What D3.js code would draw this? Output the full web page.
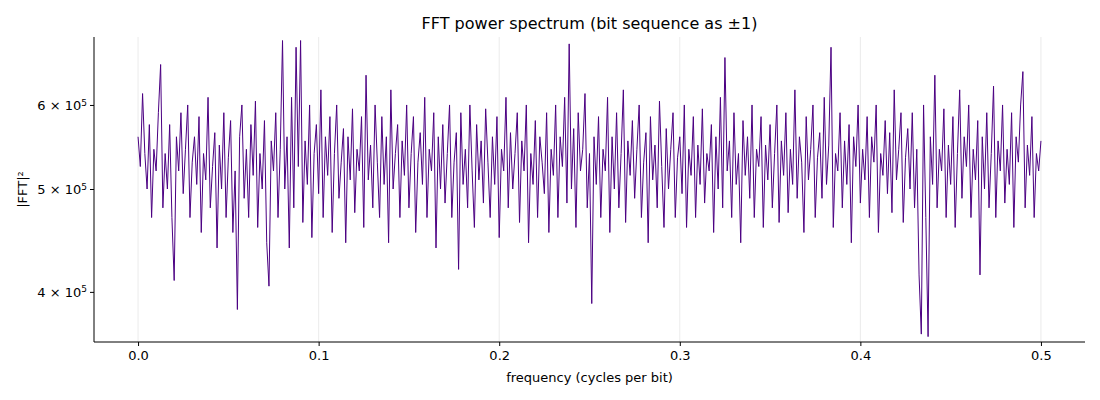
<!DOCTYPE html>
<html>
<head>
<meta charset="UTF-8">
<script src="https://d3js.org/d3.v7.min.js"></script>
<style>
  body { margin: 0; background: #fff; font-family: "DejaVu Sans", sans-serif; }
  text { font-family: "DejaVu Sans", sans-serif; }
</style>
</head>
<body>
<svg width="1100" height="400"></svg>
<script>
// power values in thousands (approximate)
const power = [
560,525,615,540,500,575,470,545,520,590,655,480,540,500,575,470,410,560,520,590,
495,545,600,470,530,560,505,585,455,540,510,610,480,525,565,440,550,500,590,470,
535,580,455,520,385,560,600,490,545,470,575,515,605,460,540,500,580,445,405,555,
520,590,470,545,690,500,560,440,610,480,680,525,690,465,555,505,600,450,540,575,
495,620,470,560,515,585,455,540,600,490,530,570,445,560,510,595,475,545,520,585,
460,640,510,550,480,600,530,470,585,505,560,445,620,500,540,575,470,555,515,600,
480,540,585,455,530,565,505,610,470,545,520,590,440,560,500,575,485,540,600,470,
530,565,420,590,505,545,480,600,520,460,575,510,555,485,595,530,470,560,505,585,
450,545,520,610,480,565,500,540,590,465,555,520,600,445,540,505,580,470,560,530,
495,590,455,545,515,600,470,560,525,610,485,685,500,570,460,590,520,545,615,480,
540,390,560,505,585,470,545,520,610,455,560,500,590,480,540,620,465,555,515,580,
490,545,600,470,530,565,445,585,510,550,480,605,525,460,570,500,545,590,470,535,
560,495,600,460,545,515,585,470,550,505,595,485,540,520,575,455,560,500,610,480,
665,520,555,470,590,505,540,445,580,515,560,490,600,470,545,525,585,460,550,510,
575,480,540,600,465,555,515,590,475,545,505,620,490,560,530,455,585,510,545,600,
470,535,565,490,610,505,550,680,460,540,520,590,480,555,505,575,445,560,525,600,
485,545,510,585,470,560,530,600,455,540,515,580,495,565,475,620,510,545,590,465,
535,570,500,590,480,545,415,365,600,470,363,560,505,640,480,545,520,595,470,550,
505,585,460,540,620,490,560,525,600,470,545,510,580,415,560,500,590,480,540,625,
470,555,520,600,485,545,505,590,460,560,530,600,645,480,550,515,585,470,540,520,
555
];
const xTicks = [0, 0.1, 0.2, 0.3, 0.4, 0.5];
const yTicks = [4e5, 5e5, 6e5];

const svg = d3.select("svg");
const pLeft = 94, pRight = 1085, pTop = 37, pBottom = 342;
const x = d3.scaleLinear().domain([-0.0244, 0.5244]).range([pLeft, pRight]);
const y = d3.scaleLog().domain([3.588e5, 6.953e5]).range([pBottom, pTop]);
const n = power.length;
const freq = i => i * 0.5 / (n - 1);

// grid
svg.append("g").selectAll("line").data(xTicks).enter().append("line")
  .attr("x1", d => x(d)).attr("x2", d => x(d))
  .attr("y1", pTop).attr("y2", pBottom)
  .attr("stroke", "#e6e6e6").attr("stroke-width", 0.8);

const line = d3.line().x((d, i) => x(freq(i))).y(d => y(d * 1000));
svg.append("path").datum(power)
  .attr("d", line).attr("fill", "none")
  .attr("stroke", "#4b0082").attr("stroke-width", 1);

// axes
const xa = svg.append("g").attr("transform", `translate(0,${pBottom})`)
  .call(d3.axisBottom(x).tickValues(xTicks).tickFormat(d3.format(".1f")).tickSize(4).tickPadding(5));
xa.select(".domain").attr("d", `M${pLeft},0H${pRight}`);
xa.selectAll("text").attr("font-size", 13).attr("fill", "#000");

const ya = svg.append("g").attr("transform", `translate(${pLeft},0)`)
  .call(d3.axisLeft(y).tickValues(yTicks).tickFormat("").tickSize(4));
ya.select(".domain").attr("d", `M0,${pTop}V${pBottom}`);
ya.selectAll(".tick").append("text")
  .attr("x", -7).attr("dy", "0.35em").attr("text-anchor", "end")
  .attr("fill", "#000").attr("font-size", 13)
  .each(function(d) {
    const t = d3.select(this);
    t.append("tspan").text(`${d / 1e5} × 10`);
    t.append("tspan").attr("dy", "-0.5em").attr("font-size", 9).text("5");
  });

svg.append("text").attr("x", (pLeft + pRight) / 2).attr("y", 29)
  .attr("text-anchor", "middle").attr("font-size", 16).text("FFT power spectrum (bit sequence as ±1)");
svg.append("text").attr("x", (pLeft + pRight) / 2).attr("y", 382)
  .attr("text-anchor", "middle").attr("font-size", 13).text("frequency (cycles per bit)");
svg.append("text").attr("transform", `translate(27,${(pTop + pBottom) / 2}) rotate(-90)`)
  .attr("text-anchor", "middle").attr("font-size", 13).text("|FFT|²");
</script>
</body>
</html>
